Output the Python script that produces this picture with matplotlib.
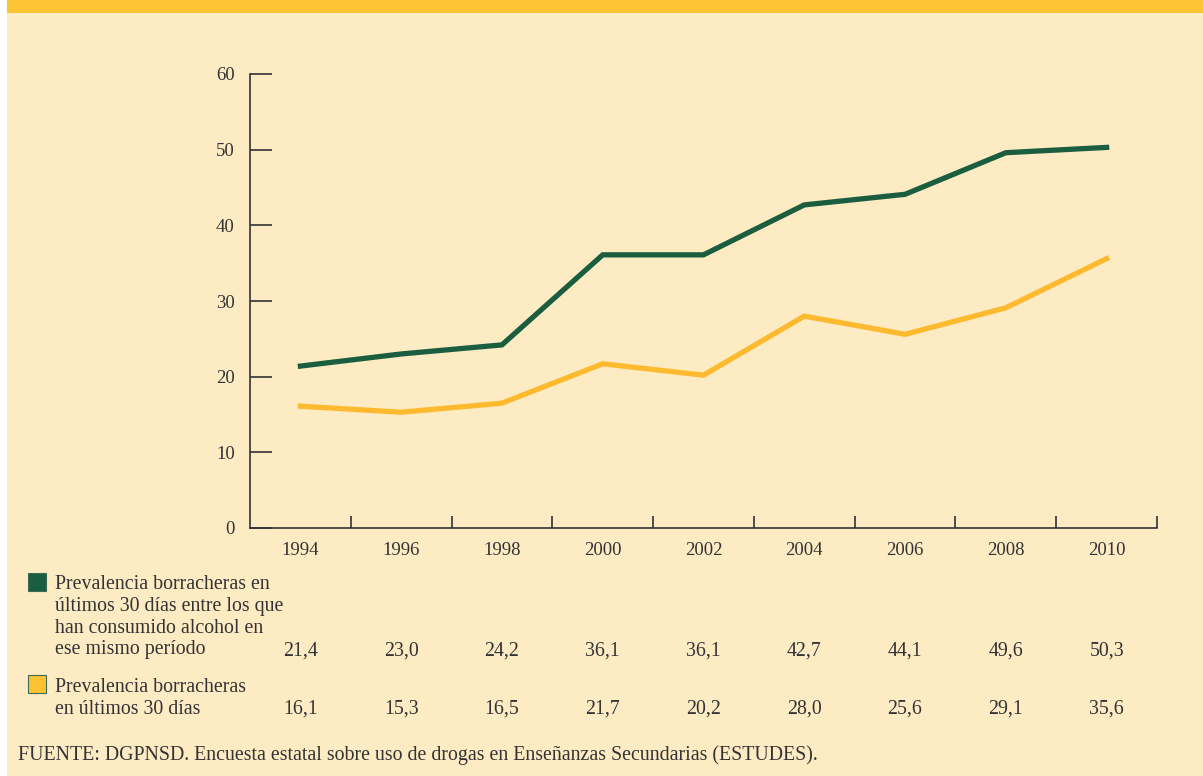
import matplotlib.pyplot as plt
from matplotlib.patches import Rectangle
import numpy as np

years = ["1994", "1996", "1998", "2000", "2002", "2004", "2006", "2008", "2010"]
borr_alcohol = [21.4, 23.0, 24.2, 36.1, 36.1, 42.7, 44.1, 49.6, 50.3]
borr_30dias = [16.1, 15.3, 16.5, 21.7, 20.2, 28.0, 25.6, 29.1, 35.6]
label_alcohol = ("Prevalencia borracheras en\núltimos 30 días entre los que\n"
                 "han consumido alcohol en\nese mismo período")
label_30dias = "Prevalencia borracheras\nen últimos 30 días"
fuente = ("FUENTE: DGPNSD. Encuesta estatal sobre uso de drogas en "
          "Enseñanzas Secundarias (ESTUDES).")

BG = "#fdebc4"
GREEN = "#1b5e3f"
YELLOW = "#fdba2e"
BAND = "#fdc434"
INK = "#333333"

plt.rcParams['font.family'] = ['Liberation Serif', 'DejaVu Serif']

fig = plt.figure(figsize=(12.03, 7.76), dpi=100)
fig.patch.set_facecolor("white")
# cream background and top band
fig.add_artist(Rectangle((7 / 1203, 0), 1, 1, transform=fig.transFigure,
                         facecolor=BG, edgecolor="none", zorder=0))
fig.add_artist(Rectangle((7 / 1203, 1 - 13 / 776), 1, 13 / 776,
                         transform=fig.transFigure, facecolor=BAND,
                         edgecolor="none", zorder=0))

ax = fig.add_axes([250 / 1203, 1 - 528 / 776, 907 / 1203, 454 / 776])
ax.set_facecolor("none")
x = np.arange(len(years))
ax.plot(x, borr_alcohol, color=GREEN, lw=3.8, solid_joinstyle="miter")
ax.plot(x, borr_30dias, color=YELLOW, lw=3.8, solid_joinstyle="miter")

ax.set_xlim(-0.5, len(years) - 0.5)
ax.set_ylim(0, 60)
for s in ["top", "right"]:
    ax.spines[s].set_visible(False)
for s in ["left", "bottom"]:
    ax.spines[s].set_color(INK)
    ax.spines[s].set_linewidth(1.2)

tfs = 13.5
ax.set_yticks(range(0, 61, 10))
ax.tick_params(axis="y", direction="in", length=16, width=1.2, color=INK,
               labelsize=tfs, labelcolor=INK, pad=11)
ax.set_xticks(np.arange(0.5, len(years), 1.0))
ax.set_xticklabels([])
ax.tick_params(axis="x", direction="in", length=9, width=1.2, color=INK)
for i, yr in enumerate(years):
    ax.text(i, -1.9, yr, ha="center", va="top", fontsize=tfs, color=INK)

# data table below the chart
fs = 14.3
def fy(py):
    return 1 - py / 776

fig.add_artist(Rectangle((28 / 1203, fy(591)), 18 / 1203, 18 / 776,
                         transform=fig.transFigure, facecolor=GREEN,
                         edgecolor="#3d6b55", lw=0.8))
fig.add_artist(Rectangle((28 / 1203, fy(693)), 18 / 1203, 18 / 776,
                         transform=fig.transFigure, facecolor="#fdc232",
                         edgecolor="#3d6b55", lw=0.8))
fig.text(55 / 1203, fy(575), label_alcohol, ha="left", va="top",
         fontsize=fs, color=INK, linespacing=1.2)
fig.text(55 / 1203, fy(678), label_30dias, ha="left", va="top",
         fontsize=fs, color=INK, linespacing=1.2)

for i in range(len(years)):
    xf = ax.transData.transform((i, 0))[0] / fig.bbox.width
    fig.text(xf, fy(651), f"{borr_alcohol[i]:.1f}".replace(".", ","),
             ha="center", va="center", fontsize=fs, color=INK)
    fig.text(xf, fy(709), f"{borr_30dias[i]:.1f}".replace(".", ","),
             ha="center", va="center", fontsize=fs, color=INK)

fig.text(18 / 1203, fy(755), fuente, ha="left", va="center",
         fontsize=fs, color=INK)

fig.savefig("out.png", dpi=100)
